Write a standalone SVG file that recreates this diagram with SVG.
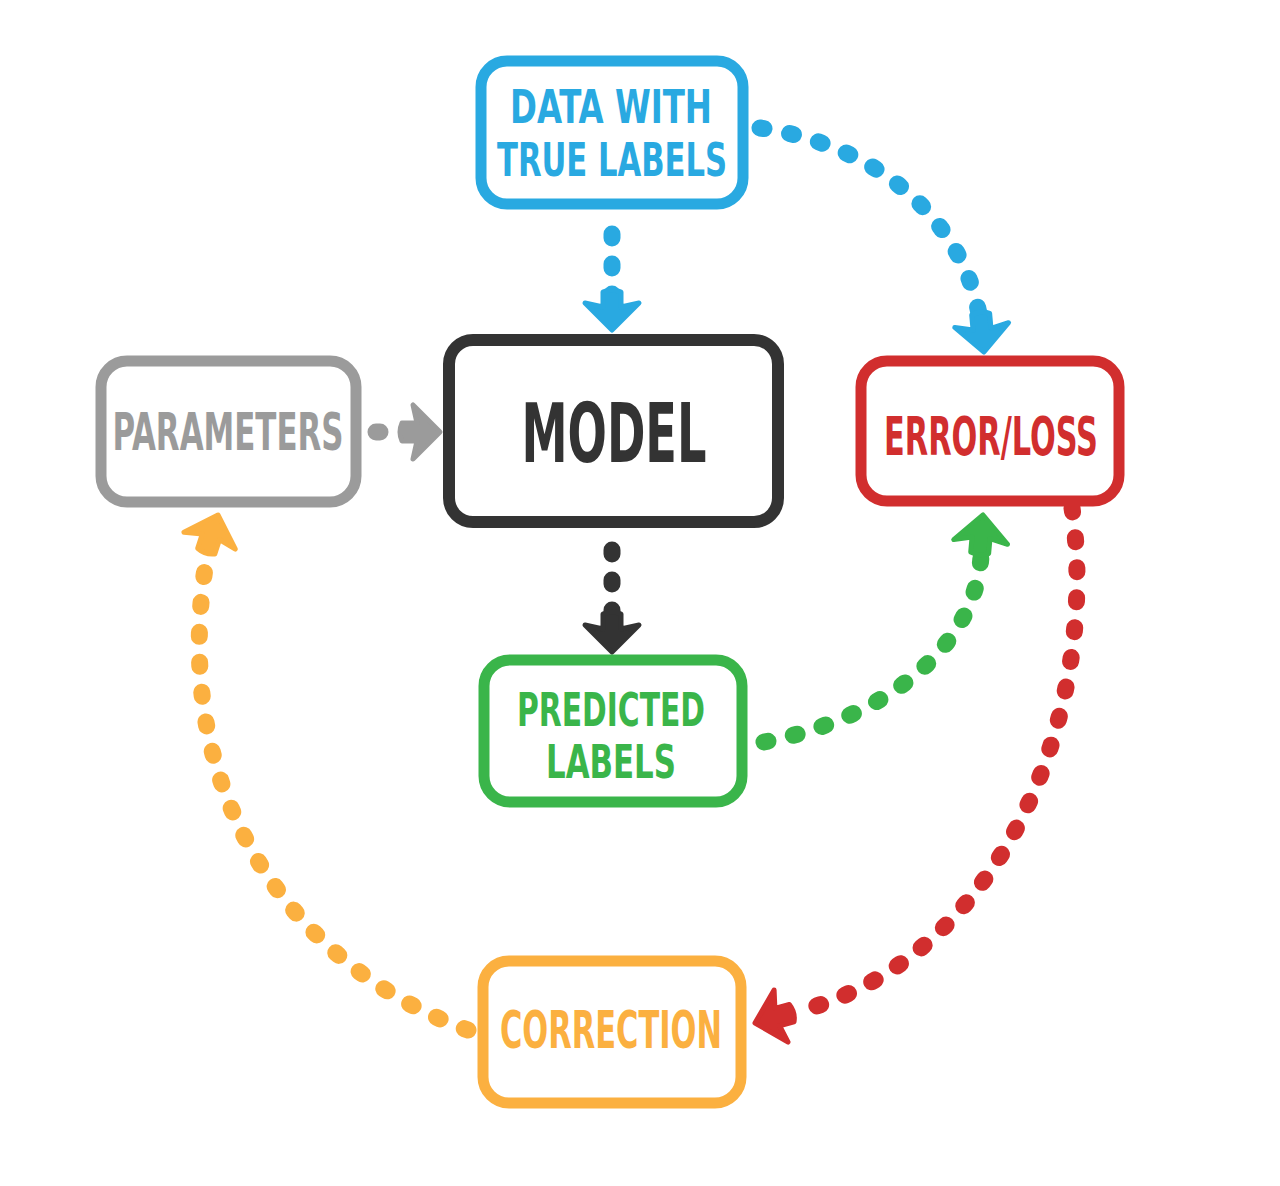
<svg xmlns="http://www.w3.org/2000/svg" xmlns:xlink="http://www.w3.org/1999/xlink" width="1280" height="1186" viewBox="0 0 1280 1186">
<style>
.box{fill:#fff;stroke-width:11;stroke-linejoin:round}
.lbl{font-family:"Liberation Sans Narrow","DejaVu Sans Condensed","Liberation Sans",sans-serif;font-weight:bold;text-anchor:middle}
.dash{fill:none;stroke-width:17;stroke-linecap:round;stroke-dasharray:4 26}
.ah{stroke-width:5;stroke-linejoin:round}
.blue{stroke:#29A9E1;fill:#29A9E1}
.dark{stroke:#333333;fill:#333333}
.gray{stroke:#9B9B9B;fill:#9B9B9B}
.red{stroke:#D12E2E;fill:#D12E2E}
.green{stroke:#3AB54A;fill:#3AB54A}
.orange{stroke:#FBB040;fill:#FBB040}
</style>
<defs>
<path id="head" d="M0,0 L-27,-27 L-23,-9 L-38,-9 Q-42,0 -38,9 L-23,9 L-27,27 Z"/>
</defs>
<rect width="1280" height="1186" fill="#fff"/>
<g id="connectors">
<path class="dash blue" d="M612,234 L612,296" style="fill:none"/>
<use href="#head" xlink:href="#head" class="ah blue" transform="translate(612,330) rotate(90)"/>
<path class="dash blue" d="M760,128 C880,145 962,222 979,314" style="fill:none"/>
<use href="#head" xlink:href="#head" class="ah blue" transform="translate(984,352) rotate(85)"/>
<path class="dash gray" d="M376,432 L405,432" style="fill:none"/>
<use href="#head" xlink:href="#head" class="ah gray" transform="translate(440,432)"/>
<path class="dash dark" d="M612,550 L612,616" style="fill:none"/>
<use href="#head" xlink:href="#head" class="ah dark" transform="translate(612,652) rotate(90)"/>
<path class="dash green" d="M764,742 C880,720 975,650 981,556" style="fill:none"/>
<use href="#head" xlink:href="#head" class="ah green" transform="translate(983,515) rotate(-85)"/>
<path class="dash red" d="M1072,508 C1100,700 1010,960 792,1013" style="fill:none"/>
<use href="#head" xlink:href="#head" class="ah red" transform="translate(755,1023) rotate(165)"/>
<path class="dash orange" d="M468,1030 C300,970 165,800 207,556" style="fill:none"/>
<use href="#head" xlink:href="#head" class="ah orange" transform="translate(218,515) rotate(-72)"/>
</g>
<g id="node-data">
<rect class="box" x="481" y="61" width="262" height="143" rx="26" stroke="#29A9E1"/>
<text class="lbl" x="611" y="123" font-size="46" fill="#29A9E1" textLength="202" lengthAdjust="spacingAndGlyphs">DATA WITH</text>
<text class="lbl" x="612" y="176" font-size="46" fill="#29A9E1" textLength="230" lengthAdjust="spacingAndGlyphs">TRUE LABELS</text>
</g>
<g id="node-model">
<rect class="box" x="449" y="340" width="329" height="182" rx="24" stroke="#333333" style="stroke-width:12"/>
<text class="lbl" x="614" y="462" font-size="82" fill="#333333" textLength="185" lengthAdjust="spacingAndGlyphs">MODEL</text>
</g>
<g id="node-parameters">
<rect class="box" x="101" y="361" width="255" height="141" rx="26" stroke="#9B9B9B"/>
<text class="lbl" x="228" y="450" font-size="52" fill="#9B9B9B" textLength="231" lengthAdjust="spacingAndGlyphs">PARAMETERS</text>
</g>
<g id="node-error">
<rect class="box" x="861" y="361" width="258" height="140" rx="26" stroke="#D12E2E"/>
<text class="lbl" x="991" y="455" font-size="54" fill="#D12E2E" textLength="214" lengthAdjust="spacingAndGlyphs">ERROR/LOSS</text>
</g>
<g id="node-predicted">
<rect class="box" x="484" y="660" width="258" height="142" rx="26" stroke="#3AB54A"/>
<text class="lbl" x="611" y="726" font-size="47" fill="#3AB54A" textLength="188" lengthAdjust="spacingAndGlyphs">PREDICTED</text>
<text class="lbl" x="611" y="778" font-size="47" fill="#3AB54A" textLength="130" lengthAdjust="spacingAndGlyphs">LABELS</text>
</g>
<g id="node-correction">
<rect class="box" x="483" y="961" width="258" height="142" rx="26" stroke="#FBB040"/>
<text class="lbl" x="611" y="1048" font-size="52" fill="#FBB040" textLength="222" lengthAdjust="spacingAndGlyphs">CORRECTION</text>
</g>
</svg>
